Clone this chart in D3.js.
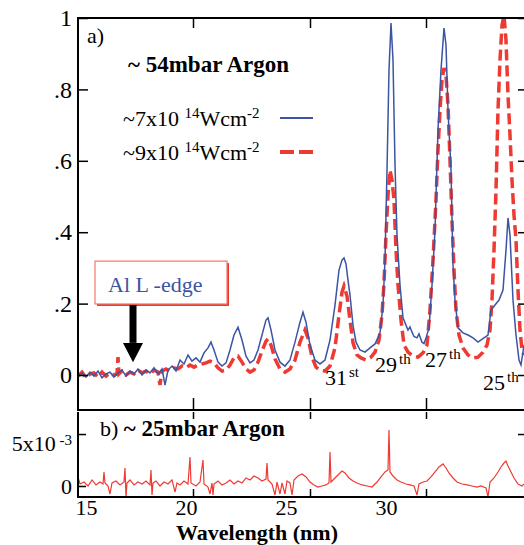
<!DOCTYPE html>
<meta charset="utf-8">
<style>
body { margin: 0; background: #fff; }
svg { display: block; }
.axis path { display: none; }
.axis line { stroke: #000; stroke-width: 1.5; }
.axis text { fill: #000; }
</style>
<body>
<div id="chart"></div>
<script src="https://cdn.jsdelivr.net/npm/d3@7/dist/d3.min.js"></script>
<script>

// wavelength (nm) / normalised signal
var blueSeries = [
  [14.60,0.000],[14.80,0.006],[15.00,-0.006],[15.20,0.008],[15.40,-0.003],[15.60,0.011],[15.80,-0.008],[16.00,0.003],
  [16.20,0.008],[16.40,-0.006],[16.60,0.006],[16.80,0.014],[17.00,-0.003],[17.20,0.011],[17.40,0.003],[17.60,0.017],
  [17.80,0.000],[18.00,0.014],[18.20,0.006],[18.40,0.020],[18.60,0.003],[18.80,0.017],[18.95,-0.028],[19.10,0.014],
  [19.30,0.025],[19.50,0.011],[19.70,0.042],[19.90,0.031],[20.10,0.056],[20.30,0.039],[20.50,0.048],[20.70,0.036],
  [20.90,0.062],[21.10,0.076],[21.25,0.092],[21.40,0.070],[21.60,0.036],[21.80,0.025],[22.00,0.034],[22.20,0.070],
  [22.40,0.112],[22.60,0.134],[22.80,0.098],[23.00,0.053],[23.20,0.034],[23.40,0.042],[23.60,0.070],[23.80,0.112],
  [24.00,0.154],[24.10,0.160],[24.25,0.126],[24.45,0.070],[24.70,0.036],[24.95,0.025],[25.20,0.042],[25.45,0.092],
  [25.70,0.148],[25.85,0.176],[26.00,0.148],[26.20,0.084],[26.45,0.042],[26.70,0.031],[26.95,0.042],[27.20,0.098],
  [27.45,0.196],[27.65,0.294],[27.80,0.322],[27.90,0.328],[28.00,0.311],[28.10,0.266],[28.20,0.224],[28.35,0.140],
  [28.50,0.092],[28.70,0.070],[28.95,0.064],[29.20,0.076],[29.45,0.087],[29.70,0.118],[29.85,0.196],[29.95,0.322],
  [30.05,0.574],[30.15,0.854],[30.25,0.986],[30.35,0.882],[30.45,0.588],[30.55,0.392],[30.70,0.252],[30.85,0.160],
  [31.10,0.126],[31.20,0.135],[31.30,0.120],[31.40,0.108],[31.55,0.104],[31.65,0.115],[31.80,0.092],[31.90,0.088],
  [32.00,0.104],[32.15,0.132],[32.30,0.252],[32.45,0.406],[32.60,0.686],[32.75,0.854],[32.90,0.972],[33.00,0.924],
  [33.10,0.742],[33.25,0.574],[33.35,0.308],[33.45,0.210],[33.60,0.132],[33.85,0.118],[34.10,0.112],[34.35,0.104],
  [34.60,0.092],[34.90,0.104],[35.10,0.112],[35.25,0.182],[35.45,0.196],[35.65,0.210],[35.85,0.238],[36.00,0.350],
  [36.10,0.440],[36.20,0.392],[36.35,0.210],[36.50,0.112],[36.65,0.042],[36.75,0.028],[36.90,0.084]
];

var redSeries = [
  [14.60,-0.003],[14.80,0.008],[15.00,-0.008],[15.20,0.003],[15.40,0.006],[15.60,-0.006],[15.80,0.008],[16.00,-0.003],
  [16.20,0.006],[16.40,0.000],[16.55,0.003],[16.60,0.050],[16.65,0.003],[16.80,0.011],[17.00,0.000],[17.20,0.008],
  [17.40,0.003],[17.60,0.014],[17.80,0.006],[18.00,0.011],[18.20,0.003],[18.40,0.014],[18.60,0.008],[18.70,-0.028],
  [18.80,0.011],[19.00,0.017],[19.20,0.011],[19.40,0.020],[19.60,0.017],[19.80,0.025],[20.00,0.020],[20.20,0.028],
  [20.40,0.022],[20.60,0.028],[20.80,0.031],[21.00,0.034],[21.20,0.039],[21.40,0.034],[21.60,0.020],[21.80,0.011],
  [22.00,0.014],[22.20,0.028],[22.40,0.048],[22.60,0.053],[22.80,0.036],[23.00,0.017],[23.20,0.008],[23.40,0.014],
  [23.60,0.036],[23.80,0.067],[24.00,0.095],[24.10,0.101],[24.25,0.084],[24.45,0.045],[24.70,0.017],[24.95,0.008],
  [25.20,0.017],[25.45,0.042],[25.70,0.092],[25.95,0.126],[26.10,0.104],[26.30,0.050],[26.50,0.022],[26.70,0.014],
  [26.95,0.011],[27.20,0.025],[27.45,0.076],[27.65,0.168],[27.80,0.232],[27.90,0.249],[28.05,0.221],[28.20,0.154],
  [28.35,0.090],[28.55,0.056],[28.75,0.048],[29.00,0.042],[29.25,0.050],[29.45,0.064],[29.65,0.098],[29.80,0.168],
  [29.90,0.258],[30.00,0.392],[30.10,0.504],[30.20,0.574],[30.30,0.546],[30.40,0.490],[30.50,0.350],[30.60,0.252],
  [30.75,0.154],[30.90,0.084],[31.10,0.064],[31.35,0.053],[31.60,0.050],[31.85,0.062],[32.05,0.084],[32.20,0.182],
  [32.35,0.322],[32.50,0.490],[32.60,0.630],[32.70,0.742],[32.80,0.826],[32.90,0.860],[33.00,0.840],[33.10,0.756],
  [33.20,0.602],[33.30,0.434],[33.40,0.294],[33.50,0.182],[33.65,0.112],[33.85,0.076],[34.10,0.056],[34.35,0.048],
  [34.60,0.050],[34.85,0.064],[35.05,0.084],[35.20,0.126],[35.30,0.210],[35.40,0.350],[35.50,0.518],[35.60,0.742],
  [35.70,0.882],[35.80,0.980],[35.90,1.008],[36.00,0.938],[36.10,0.784],[36.20,0.672],[36.30,0.546],[36.40,0.448],
  [36.50,0.378],[36.60,0.238],[36.70,0.126],[36.80,0.070],[36.90,0.056]
];

// panel b, signal in units of 1e-3
var lowPressureSeries = [
  [14.60,0.87],[14.70,0.19],[14.90,0.38],[15.10,0.00],[15.30,0.58],[15.50,0.10],[15.70,0.38],[15.85,0.19],
  [15.90,1.35],[15.95,0.29],[16.10,0.00],[16.20,-0.77],[16.30,0.29],[16.50,0.48],[16.70,0.10],[16.90,0.38],
  [16.95,1.73],[17.00,-1.06],[17.05,0.29],[17.20,0.58],[17.40,0.10],[17.60,0.38],[17.80,0.19],[18.00,0.48],
  [18.20,0.10],[18.25,1.54],[18.30,-0.87],[18.35,0.29],[18.50,0.48],[18.70,0.00],[18.90,0.38],[19.10,0.19],
  [19.30,0.58],[19.45,-0.58],[19.55,0.29],[19.70,0.10],[19.90,0.48],[20.10,0.19],[20.20,2.79],[20.25,0.29],
  [20.50,0.00],[20.70,0.38],[20.85,2.50],[20.90,0.19],[21.10,-0.10],[21.20,-0.77],[21.30,0.29],[21.35,-0.87],
  [21.40,0.19],[21.60,0.48],[21.80,0.10],[22.00,0.29],[22.20,0.58],[22.40,0.19],[22.60,0.48],[22.80,0.29],
  [23.00,0.77],[23.20,0.58],[23.40,0.96],[23.60,0.77],[23.80,0.48],[24.00,0.67],[24.05,2.21],[24.10,0.58],
  [24.30,0.19],[24.45,-0.87],[24.55,0.38],[24.70,-0.77],[24.80,0.29],[24.95,-0.77],[25.05,0.48],[25.20,0.29],
  [25.30,-0.87],[25.40,0.58],[25.60,0.96],[25.80,1.15],[26.00,0.87],[26.20,0.38],[26.40,0.10],[26.60,-0.10],
  [26.80,0.00],[27.00,0.10],[27.15,0.29],[27.20,3.27],[27.25,0.38],[27.45,0.77],[27.65,1.15],[27.80,1.44],
  [27.95,1.25],[28.15,0.77],[28.35,0.48],[28.55,0.29],[28.80,0.10],[29.05,0.00],[29.30,-0.10],[29.55,0.38],
  [29.75,0.87],[29.95,1.35],[30.10,1.54],[30.15,5.38],[30.20,1.35],[30.35,0.96],[30.55,0.58],[30.75,0.38],
  [31.00,0.19],[31.20,0.10],[31.40,0.00],[31.55,-0.87],[31.65,0.19],[31.85,0.38],[32.05,0.48],[32.25,0.87],
  [32.45,1.35],[32.65,1.83],[32.85,2.12],[33.00,1.73],[33.15,1.25],[33.35,0.77],[33.55,0.38],[33.80,0.19],
  [34.05,0.10],[34.30,0.00],[34.55,-0.10],[34.75,0.00],[35.00,-0.19],[35.10,-1.06],[35.20,0.38],[35.40,0.77],
  [35.60,1.35],[35.75,1.83],[35.90,2.21],[36.00,2.40],[36.10,1.92],[36.25,1.35],[36.40,0.77],[36.60,0.19],
  [36.80,0.00],[36.90,0.19]
];

var xTickLabels = [15, 20, 25, 30];
var xFrameTicks = [20.35, 26.2, 32.0];
var yTicksA = [0, 0.2, 0.4, 0.6, 0.8, 1];
var yTickLabelsA = ["0", ".2", ".4", ".6", ".8", "1"];
var yTicksB = [0, 5];

var harmonics = [
  {n: "31", sup: "st", wl: 26.95, v: -0.028},
  {n: "29", sup: "th", wl: 29.45, v: 0.008},
  {n: "27", sup: "th", wl: 31.95, v: 0.022},
  {n: "25", sup: "th", wl: 34.85, v: -0.042}
];

var blue = "#3b54a3";
var red = "#ee3a33";
var serif = '"Liberation Serif", "Times New Roman", Times, "DejaVu Serif", serif';

var largeur = 524;
var hauteur = 545;

const svg = d3.select("#chart")
  .append("svg")
    .attr("width", largeur)
    .attr("height", hauteur)
    .style("font-family", serif);

var x = d3.scaleLinear().domain([14.6, 36.95]).range([78, 525]);
var ya = d3.scaleLinear().domain([-0.098, 1]).range([410, 18]);
var yb = d3.scaleLinear().domain([-1.06, 7.12]).range([497, 412]);

// clip for each panel
svg.append("clipPath").attr("id", "clipA")
  .append("rect").attr("x", 78).attr("y", 18).attr("width", 447).attr("height", 392);
svg.append("clipPath").attr("id", "clipB")
  .append("rect").attr("x", 78).attr("y", 412).attr("width", 447).attr("height", 85);

var lineA = d3.line().x(d => x(d[0])).y(d => ya(d[1]));
var lineB = d3.line().x(d => x(d[0])).y(d => yb(d[1]));

svg.append("path")
  .datum(redSeries)
  .attr("clip-path", "url(#clipA)")
  .attr("fill", "none")
  .attr("stroke", red)
  .attr("stroke-width", 3.5)
  .attr("stroke-dasharray", "11,5")
  .attr("d", lineA);

svg.append("path")
  .datum(blueSeries)
  .attr("clip-path", "url(#clipA)")
  .attr("fill", "none")
  .attr("stroke", blue)
  .attr("stroke-width", 1.5)
  .attr("d", lineA);

svg.append("path")
  .datum(lowPressureSeries)
  .attr("clip-path", "url(#clipB)")
  .attr("fill", "none")
  .attr("stroke", red)
  .attr("stroke-width", 1.2)
  .attr("d", lineB);

// frames
svg.append("path")
  .attr("d", "M525," + ya.range()[1] + "H78V" + ya.range()[0] + "H525")
  .attr("fill", "none").attr("stroke", "#000").attr("stroke-width", 2);
svg.append("path")
  .attr("d", "M78," + yb.range()[1] + "V" + yb.range()[0] + "H525")
  .attr("fill", "none").attr("stroke", "#000").attr("stroke-width", 2);

function serifAxis(g) {
  g.attr("font-family", null).selectAll("text").style("font-family", serif);
}

// panel a axes
svg.append("g").attr("class", "axis")
  .attr("transform", "translate(78,0)")
  .call(d3.axisLeft(ya).tickValues(yTicksA).tickSizeInner(-10).tickSizeOuter(0).tickPadding(6)
    .tickFormat((d, i) => yTickLabelsA[i]))
  .call(serifAxis)
  .attr("font-size", 24);
svg.append("g").attr("class", "axis")
  .attr("transform", "translate(525,0)")
  .call(d3.axisRight(ya).tickValues(yTicksA).tickSizeInner(-7).tickSizeOuter(0).tickFormat(""));
svg.append("g").attr("class", "axis")
  .attr("transform", "translate(0,18)")
  .call(d3.axisTop(x).tickValues(xFrameTicks).tickSizeInner(-10).tickSizeOuter(0).tickFormat(""));
svg.append("g").attr("class", "axis")
  .attr("transform", "translate(0,410)")
  .call(d3.axisBottom(x).tickValues(xFrameTicks).tickSizeInner(-12).tickSizeOuter(0).tickFormat(""));

// panel b axes
svg.append("g").attr("class", "axis")
  .attr("transform", "translate(0,412)")
  .call(d3.axisTop(x).tickValues(xFrameTicks).tickSizeInner(-7).tickSizeOuter(0).tickFormat(""));
svg.append("g").attr("class", "axis")
  .attr("transform", "translate(0,497)")
  .call(d3.axisBottom(x).tickValues(xFrameTicks).tickSizeInner(-8).tickSizeOuter(0).tickFormat(""));
svg.append("g").attr("class", "axis")
  .attr("transform", "translate(0,497)")
  .call(d3.axisBottom(x).tickValues(xTickLabels).tickSize(0).tickPadding(2))
  .call(serifAxis)
  .attr("font-size", 22);
svg.append("g").attr("class", "axis")
  .attr("transform", "translate(525,0)")
  .call(d3.axisRight(yb).tickValues([5]).tickSizeInner(-7).tickSizeOuter(0).tickFormat(""));
var yAxisB = svg.append("g").attr("class", "axis")
  .attr("transform", "translate(78,0)")
  .call(d3.axisLeft(yb).tickValues(yTicksB).tickSizeInner(-8).tickSizeOuter(0).tickPadding(6)
    .tickFormat(d => d === 0 ? "0" : d + "x10"))
  .call(serifAxis)
  .attr("font-size", 22);
yAxisB.selectAll(".tick text")
  .filter(d => d !== 0)
  .attr("dy", "0.75em")
  .append("tspan")
    .attr("dy", "-0.4em")
    .style("font-size", "15px")
    .text(" -3");

// axis title
svg.append("text")
  .attr("x", 257).attr("y", 540)
  .attr("text-anchor", "middle")
  .style("font-size", "22px").style("font-weight", "bold")
  .text("Wavelength (nm)");

// panel labels
svg.append("text").attr("x", 87).attr("y", 43).style("font-size", "22px").text("a)");
svg.append("text").attr("x", 128).attr("y", 72)
  .style("font-size", "23px").style("font-weight", "bold").text("~ 54mbar Argon");
var bLabel = svg.append("text").attr("x", 100).attr("y", 436).style("font-size", "22px");
bLabel.append("tspan").text("b)  ");
bLabel.append("tspan").style("font-weight", "bold").style("font-size", "23px").text("~ 25mbar Argon");

// legend
var legend = [
  {txt: "~7x10", y: 126, color: blue, width: 1.8, dash: null},
  {txt: "~9x10", y: 160, color: red, width: 4, dash: "14,5"}
];
legend.forEach(function(l) {
  var t = svg.append("text").attr("x", 123).attr("y", l.y).style("font-size", "22px");
  t.append("tspan").text(l.txt + " ");
  t.append("tspan").attr("dy", -8).style("font-size", "15px").text("14");
  t.append("tspan").attr("dy", 8).text("Wcm");
  t.append("tspan").attr("dy", -8).style("font-size", "15px").text("-2");
  var ly = l.y - 8;
  svg.append("line")
    .attr("x1", 280).attr("x2", 313).attr("y1", ly).attr("y2", ly)
    .attr("stroke", l.color).attr("stroke-width", l.width)
    .attr("stroke-dasharray", l.dash);
});

// harmonic order labels
harmonics.forEach(function(h) {
  var t = svg.append("text")
    .attr("x", x(h.wl)).attr("y", ya(h.v))
    .style("font-size", "22px");
  t.append("tspan").text(h.n);
  t.append("tspan").attr("dx", 2).attr("dy", -8).style("font-size", "15px").text(h.sup);
});

// Al L-edge box and arrow
var bx0 = x(15.45), bx1 = x(22.05), by0 = ya(0.319), by1 = ya(0.199);
svg.append("rect")
  .attr("x", bx0 + 2).attr("y", by0 + 2).attr("width", bx1 - bx0).attr("height", by1 - by0)
  .attr("fill", "#e8382c");
svg.append("rect")
  .attr("x", bx0).attr("y", by0).attr("width", bx1 - bx0).attr("height", by1 - by0)
  .attr("fill", "#fff").attr("stroke", "#f07a6a").attr("stroke-width", 1.2);
svg.append("text")
  .attr("x", x(16.1)).attr("y", ya(0.232))
  .attr("fill", blue).style("font-size", "22px")
  .text("Al L -edge");

var ax = x(17.35);
svg.append("rect")
  .attr("x", ax - 3.5).attr("y", ya(0.196)).attr("width", 7).attr("height", ya(0.09) - ya(0.196))
  .attr("fill", "#000");
svg.append("path")
  .attr("d", d3.line()([[ax - 10, ya(0.09)], [ax + 10, ya(0.09)], [ax, ya(0.036)]]) + "Z")
  .attr("fill", "#000");

</script>
</body>
